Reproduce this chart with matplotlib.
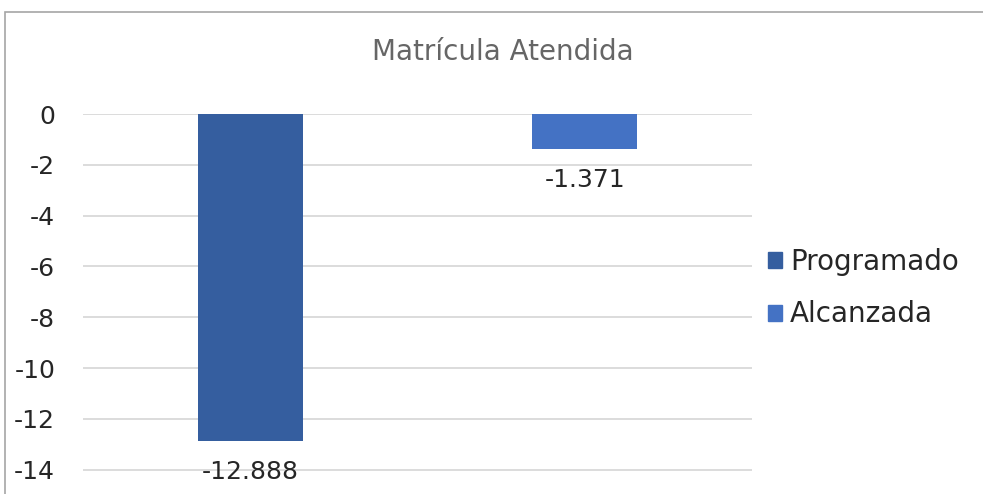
import matplotlib.pyplot as plt
from matplotlib.patches import Rectangle, Patch

# datos
categorias = ["Programado", "Alcanzada"]
valores = [-12.888, -1.371]
etiquetas = ["-12.888", "-1.371"]
colores = ["#355E9F", "#4472C4"]
yticks = [0, -2, -4, -6, -8, -10, -12, -14]

plt.rcParams['font.family'] = ['DejaVu Sans']
fs = 18

fig = plt.figure(figsize=(9.83, 4.94), dpi=100)
W, H = 983, 494
ax = fig.add_axes([83 / W, 0, (752 - 83) / W, 1 - 114 / H])

x = [0, 1]
ax.bar(x, valores, width=0.314, color=colores, zorder=3)
for xi, v, t in zip(x, valores, etiquetas):
    ax.text(xi, v - 0.75, t, ha="center", va="top", fontsize=fs, color="#262626")

ax.set_xlim(-0.5, 1.5)
ax.set_ylim(-(H - 114) / 25.4, 0)
ax.set_yticks(yticks)
ax.set_yticklabels([str(t) for t in yticks], fontsize=fs, color="#262626")
ax.tick_params(axis="y", length=0, pad=20)
ax.set_xticks([])
ax.grid(axis="y", color="#d9d9d9", linewidth=1.3, zorder=0)
for s in ax.spines.values():
    s.set_visible(False)

fig.text(503 / W, 1 - 52 / H, "Matrícula Atendida", ha="center", va="center",
         fontsize=20, color="#666666")

handles = [Patch(color=c) for c in colores]
fig.legend(handles, categorias, loc="center left", bbox_to_anchor=(743 / W, 1 - 288 / H),
           frameon=False, fontsize=20, handlelength=0.5, handleheight=0.5,
           handletextpad=0.3, labelspacing=0.9, labelcolor="#262626")

fig.patches.append(Rectangle((5 / W, -0.1), 1.2, 1 - 12 / H + 0.1, transform=fig.transFigure,
                             fill=False, edgecolor="#a6a6a6", linewidth=1.2))

fig.savefig("out.png", dpi=100)
